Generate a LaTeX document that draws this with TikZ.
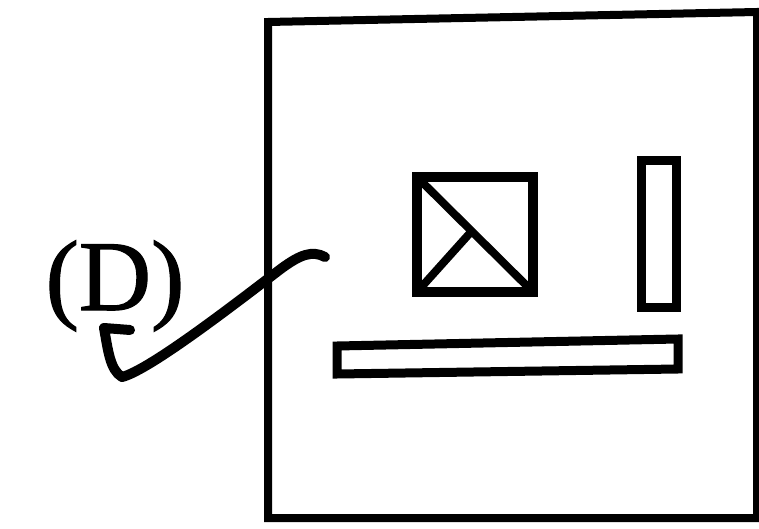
\documentclass[tikz,border=0pt]{standalone}
\usepackage{fontspec}
\newfontfamily\labfont{Liberation Serif}[FakeBold=1.2]
\begin{document}
\begin{tikzpicture}[x=1pt,y=-1pt,
  thick line/.style={line width=8pt, line join=round, line cap=round}]
\useasboundingbox (0,0) rectangle (759,529);
% outer frame
\draw[thick line, line join=miter] (268,70) -- (268,22) -- (757,12) -- (757,518) -- (268,518) -- (268,70);
% box with diagonal
\draw[line width=10pt, line join=miter] (417,177) rectangle (533,292);
\coordinate (sqTL) at (417,177);
\coordinate (sqBR) at (533,292);
\coordinate (sqBL) at (417,292);
\coordinate (sqC) at (470,233);
\draw[line width=8pt] (sqTL) -- (sqBR);
\draw[line width=8pt] (sqC) -- (sqBL);
% vertical bar
\draw[line width=9pt, line join=miter] (641,161) rectangle (676,307);
% horizontal bar
\draw[line width=9pt, line join=miter] (337,346) -- (678,339) -- (678,369) -- (337,374) -- cycle;
% label
\node[font=\labfont\fontsize{100}{100}\selectfont, inner sep=0pt, anchor=base] (lab) at (115,310) {(D)};
\coordinate (tip) at (325,257);
\draw[line width=10pt, line cap=round, line join=round]
  (130,330) -- (104,328) .. controls (108,350) and (110,370) .. (122,377)
  .. controls (150,370) and (240,300) .. (282,268)
  .. controls (300,255) and (312,250) .. (tip);
\end{tikzpicture}
\end{document}
